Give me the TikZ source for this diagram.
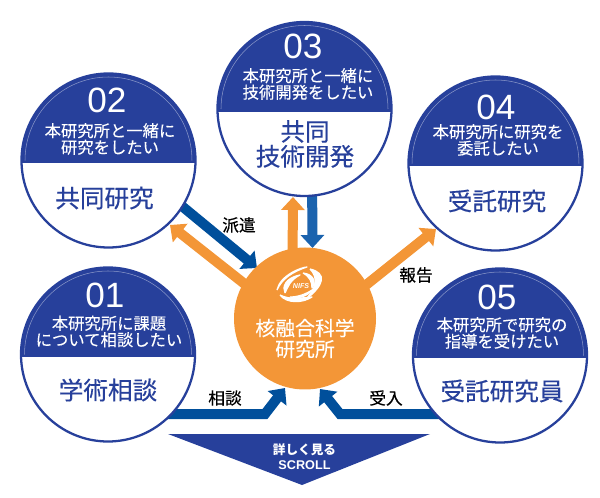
\documentclass[tikz,border=0pt]{standalone}
\usepackage{fontspec}
\setmainfont{Noto Sans CJK JP}
\newfontfamily\numfont{Liberation Sans}
\newfontfamily\medfont[FakeBold=.35]{Noto Sans CJK JP}
\newfontfamily\lightbold[FakeBold=.15]{Noto Sans CJK JP}
\usetikzlibrary{arrows.meta, backgrounds, positioning, shapes}

\definecolor{navy}{HTML}{27409B}
\definecolor{hubcol}{HTML}{F39637}
\definecolor{darkblue}{HTML}{004F9B}
\definecolor{midblue}{HTML}{1B63AE}

\tikzset{
    topic/.style={circle, draw=navy, line width=1.3pt, fill=white, minimum size=3.48cm, inner sep=0pt,
        path picture={
            \fill[navy] ([yshift=-.06cm]path picture bounding box.west) rectangle (path picture bounding box.north east);
            \draw[navy!55!white, line width=.3pt] ([xshift=1.67cm]path picture bounding box.center) arc (0:180:1.67cm);
        }},
    num/.style={text=white, font=\numfont\fontsize{20}{20}\selectfont, inner sep=0pt},
    ask/.style={text=white, font=\lightbold\fontsize{9.3}{9.4}\selectfont, align=center, inner sep=0pt},
    title/.style={text=navy, font=\medfont\fontsize{14}{14.2}\selectfont, align=center, inner sep=0pt},
    tag/.style={text=black, font=\medfont\fontsize{9.5}{10}\selectfont, inner sep=0pt},
    flow/.style={line width=.2cm, -{Triangle[length=.26cm, width=.46cm]}, shorten <=-4pt},
    goout/.style={flow, hubcol},
    comein/.style={flow, darkblue},
    blade/.style={fill=white, draw=white, line width=.7pt, line join=round}
}

\begin{document}
\begin{tikzpicture}
    \useasboundingbox (0, 0) rectangle (12, -9.96);

    % circles
    \node[circle, fill=hubcol, minimum size=2.84cm, inner sep=0pt] (hub) at (6.1, -6.37) {};
    \node[topic] (c01) at (2.16, -7.09) {};
    \node[topic] (c02) at (2.17, -3.21) {};
    \node[topic] (c03) at (6.09, -2.18) {};
    \node[topic] (c04) at (9.91, -3.27) {};
    \node[topic] (c05) at (10, -7.11) {};

    \node[num] (n01) at (2.1, -5.9) {01};
    \node[ask] (a01) at (2.18, -6.63) {本研究所に課題\\について相談したい};
    \node[title] (t01) at (2.16, -7.8) {学術相談};

    \node[num] (n02) at (2.14, -2) {02};
    \node[ask] (a02) at (2.2, -2.78) {本研究所と一緒に\\研究をしたい};
    \node[title] (t02) at (2.09, -3.96) {共同研究};

    \node[num] (n03) at (6.06, -.92) {03};
    \node[ask] (a03) at (6.16, -1.68) {本研究所と一緒に\\技術開発をしたい};
    \node[title] (t03) at (6.1, -2.88) {共同\\技術開発};

    \node[num] (n04) at (9.92, -2.14) {04};
    \node[ask] (a04) at (9.96, -2.8) {本研究所に研究を\\委託したい};
    \node[title] (t04) at (9.94, -4.02) {受託研究};

    \node[num] (n05) at (9.94, -5.94) {05};
    \node[ask] (a05) at (10.04, -6.66) {本研究所で研究の\\指導を受けたい};
    \node[title] (t05) at (10.04, -7.82) {受託研究員};

    % arrows
    \coordinate (bend01) at (5.3, -8.28);
    \coordinate (bend05) at (6.8, -8.28);
    \coordinate (tip01) at (5.7, -7.76);
    \coordinate (tip05) at (6.4, -7.78);
    \coordinate (in02) at (5.14, -5.36);
    \coordinate (out02) at (3.4, -4.5);
    \coordinate (out03) at (5.86, -3.94);
    \coordinate (in03) at (6.25, -4.96);
    \coordinate (out04) at (8.72, -4.58);
    \begin{scope}[on background layer]
        \draw[comein] (c01 |- bend01) -- (bend01) -- (tip01);
        \draw[comein] (c05 |- bend05) -- (bend05) -- (tip05);
        \draw[comein] (c02.-32) -- (in02);
        \draw[goout] (hub.150) -- (out02);
        \draw[goout] (hub.100) -- (out03);
        \draw[flow, midblue] (c03.-85) -- (in03);
        \draw[goout] (hub.29) -- (out04);
    \end{scope}

    % logo
    \begin{scope}[shift={(6.04, -5.74)}, x=.02cm, y=-.02cm]
        \path[blade] (-25, 3) .. controls (-22, -12) and (0, -20) .. (5, -20) .. controls (-10, -15) and (-20, -8) .. (-25, 3);
        \path[blade] (8, -18) .. controls (25, -14) and (23, -2) .. (3, 13) .. controls (15, 1) and (16, -10) .. (8, -18);
        \path[blade] (-22, 8) .. controls (-15, 17) and (1, 16) .. (10, 10) .. controls (-2, 11) and (-12, 13) .. (-22, 8);
        \path[blade] (-17, 6) .. controls (-20, 0) and (-17, -9) .. (-2, -12) .. controls (-12, -7) and (-14, 0) .. (-17, 6);
        \path[blade] (1, -14) .. controls (11, -13) and (15, -5) .. (10, 1) .. controls (10, -5) and (8, -10) .. (1, -14);
        \path[blade] (-12, 10) .. controls (-5, 12) and (5, 10) .. (10, 3) .. controls (4, 7) and (-4, 10) .. (-12, 10);
        \node[text=white, font=\numfont\bfseries\itshape\fontsize{4}{5}\selectfont, inner sep=0pt] (logo) at (-1, -1) {NIFS};
    \end{scope}

    \node[text=white, font=\lightbold\fontsize{11.3}{11.9}\selectfont, align=center, inner sep=0pt] (hubtext) at (6.1, -6.77) {核融合科学\\研究所};

    % labels
    \node[tag] (l1) at (4.78, -4.5) {派遣};
    \node[tag] (l2) at (8.32, -5.5) {報告};
    \node[tag] (l3) at (4.5, -7.96) {相談};
    \node[tag] (l4) at (7.72, -7.96) {受入};

    % scroll
    \fill[navy] (3.36, -8.68) -- (8.6, -8.68) -- (6.04, -9.7) -- cycle;
    \node[text=white, font=\bfseries\fontsize{7.2}{8.5}\selectfont, align=center, inner sep=0pt] (scroll) at (6.09, -9.13) {詳しく見る\\{\numfont SCROLL}};
\end{tikzpicture}
\end{document}
